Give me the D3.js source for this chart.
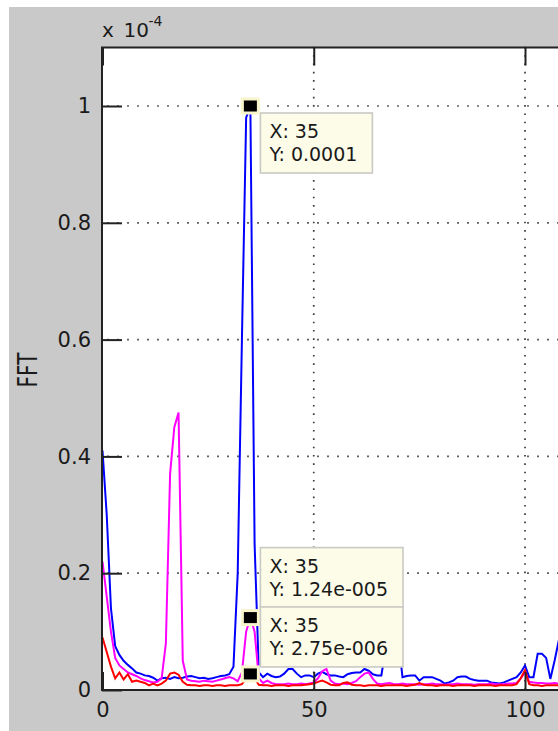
<!DOCTYPE html>
<html>
<head>
<meta charset="utf-8">
<script src="https://cdn.jsdelivr.net/npm/d3@7"></script>
<style>
  html, body { margin: 0; padding: 0; background: #ffffff; }
  svg { display: block; }
  text { font-family: "DejaVu Sans", Verdana, sans-serif; fill: #1a1a1a; }
</style>
</head>
<body>
<svg id="chart" width="558" height="731"></svg>
<script>
// FFT magnitudes per frequency bin (bin index = frequency), in units of 1e-4
const yExponent = -4;
const blueFFT = [
  0.41, 0.3, 0.14, 0.075, 0.06, 0.05, 0.043, 0.037, 0.03, 0.028,
  0.025, 0.024, 0.021, 0.016, 0.02, 0.021, 0.019, 0.022, 0.02, 0.021,
  0.023, 0.024, 0.022, 0.02, 0.021, 0.019, 0.02, 0.022, 0.024, 0.025,
  0.027, 0.04, 0.2, 0.6, 0.98, 1.0, 0.25, 0.03, 0.022, 0.028,
  0.024, 0.022, 0.023, 0.028, 0.036, 0.036, 0.028, 0.022, 0.025, 0.025,
  0.022, 0.028, 0.031, 0.027, 0.025, 0.025, 0.023, 0.022, 0.027, 0.029,
  0.03, 0.03, 0.036, 0.033, 0.027, 0.025, 0.025, 0.07, 0.12, 0.06,
  0.09, 0.022, 0.024, 0.025, 0.025, 0.016, 0.022, 0.022, 0.022, 0.019,
  0.016, 0.011, 0.013, 0.016, 0.022, 0.023, 0.023, 0.019, 0.017, 0.016,
  0.016, 0.016, 0.013, 0.012, 0.011, 0.013, 0.016, 0.019, 0.022, 0.03,
  0.042, 0.022, 0.022, 0.062, 0.062, 0.055, 0.019, 0.05, 0.085, 0.07,
  0.05
];
const magentaFFT = [
  0.22, 0.16, 0.1, 0.055, 0.042, 0.036, 0.03, 0.027, 0.024, 0.02,
  0.017, 0.015, 0.013, 0.014, 0.02, 0.08, 0.37, 0.45, 0.475, 0.05,
  0.018, 0.016, 0.015, 0.014, 0.016, 0.015, 0.014, 0.016, 0.018, 0.02,
  0.022, 0.02, 0.015, 0.03, 0.1, 0.124, 0.1, 0.02, 0.012, 0.016,
  0.012, 0.01, 0.01, 0.01, 0.011, 0.01, 0.01, 0.011, 0.01, 0.011,
  0.013, 0.02, 0.032, 0.036, 0.016, 0.011, 0.01, 0.011, 0.01, 0.012,
  0.015, 0.022, 0.028, 0.03, 0.019, 0.011, 0.01, 0.011, 0.012, 0.01,
  0.01, 0.011, 0.01, 0.01, 0.01, 0.009, 0.01, 0.01, 0.011, 0.01,
  0.01, 0.009, 0.01, 0.01, 0.011, 0.01, 0.01, 0.01, 0.009, 0.01,
  0.01, 0.01, 0.011, 0.01, 0.01, 0.01, 0.011, 0.011, 0.012, 0.02,
  0.03, 0.014, 0.013, 0.012, 0.012, 0.011, 0.011, 0.012, 0.011, 0.011,
  0.011
];
const redFFT = [
  0.09, 0.065, 0.04, 0.02, 0.03, 0.018, 0.027, 0.014, 0.016, 0.014,
  0.012, 0.008, 0.011, 0.008, 0.011, 0.016, 0.028, 0.03, 0.026, 0.014,
  0.009, 0.008, 0.008, 0.007, 0.008, 0.008, 0.007, 0.008, 0.008, 0.007,
  0.008, 0.008, 0.008, 0.01, 0.02, 0.0275, 0.02, 0.009, 0.008, 0.008,
  0.007, 0.008, 0.008, 0.008, 0.007, 0.008, 0.008, 0.008, 0.009, 0.01,
  0.011, 0.014, 0.016, 0.013, 0.009, 0.008, 0.008, 0.012, 0.013, 0.009,
  0.008, 0.008, 0.007, 0.008, 0.008, 0.008, 0.007, 0.008, 0.008, 0.008,
  0.008, 0.008, 0.007, 0.008, 0.009, 0.012, 0.009, 0.008, 0.008, 0.007,
  0.008, 0.008, 0.008, 0.007, 0.008, 0.008, 0.008, 0.008, 0.007, 0.008,
  0.008, 0.008, 0.008, 0.007, 0.008, 0.008, 0.008, 0.008, 0.01, 0.02,
  0.034, 0.01, 0.008, 0.008, 0.007, 0.008, 0.008, 0.008, 0.008, 0.008,
  0.008
];
const xTickValues = [0, 50, 100];
const yTickValues = [0, 0.2, 0.4, 0.6, 0.8, 1];
const yTickLabels = ["0", "0.2", "0.4", "0.6", "0.8", "1"];
const yAxisLabel = "FFT";
const tipBin = 35;

const seriesList = [
  { values: blueFFT, color: "#0000ff" },
  { values: magentaFFT, color: "#ff00ff" },
  { values: redFFT, color: "#ff0000" }
];

const svg = d3.select("#chart");
const W = 558, H = 731;

// scales: the axes extend beyond the right edge of the window
const xEnd = 120;
const x = d3.scaleLinear().domain([0, xEnd]).range([102.5, 102.5 + xEnd * 4.225]);
const y = d3.scaleLinear().domain([0, 1.1]).range([690, 47.6]);
const pL = 102, pT = 47.6, pB = 690, pR = x(xEnd);

// figure background
svg.append("rect").attr("width", W).attr("height", H).attr("fill", "#ffffff");
svg.append("rect").attr("x", 9).attr("y", 7).attr("width", W - 9).attr("height", H - 7)
  .attr("fill", "#c9c9c9");
// axes background
svg.append("rect").attr("x", pL).attr("y", pT).attr("width", pR - pL).attr("height", pB - pT)
  .attr("fill", "#ffffff");

// dotted grid
const grid = svg.append("g").attr("stroke", "#3a3a3a").attr("stroke-width", 1.7).attr("fill", "none");
grid.selectAll("line.h").data(yTickValues.filter(v => v > 0)).join("line")
  .attr("class", "h")
  .attr("x1", pL + 5.2).attr("x2", pR)
  .attr("y1", d => y(d)).attr("y2", d => y(d))
  .attr("stroke-dasharray", "1.6 8.4");
grid.selectAll("line.v").data(xTickValues.filter(v => v > 0)).join("line")
  .attr("class", "v")
  .attr("x1", d => x(d)).attr("x2", d => x(d))
  .attr("y1", pT - 0.8).attr("y2", pB)
  .attr("stroke-dasharray", "1.6 6.73");

// data lines
svg.append("clipPath").attr("id", "plotClip")
  .append("rect").attr("x", pL).attr("y", pT).attr("width", pR - pL).attr("height", pB - pT);
const line = d3.line().x((d, i) => x(i)).y(d => y(d));
svg.append("g").attr("clip-path", "url(#plotClip)")
  .selectAll("path").data(seriesList).join("path")
  .attr("d", s => line(s.values))
  .attr("fill", "none")
  .attr("stroke", s => s.color)
  .attr("stroke-width", 2);

// axes
const axisColor = "#222222";
const yAxis = svg.append("g").attr("transform", `translate(${pL},0)`)
  .call(d3.axisLeft(y).tickValues(yTickValues)
    .tickFormat((d, i) => yTickLabels[i])
    .tickSizeInner(-20).tickSizeOuter(0).tickPadding(11));
const xAxis = svg.append("g").attr("transform", `translate(0,${pB})`)
  .call(d3.axisBottom(x).tickValues(xTickValues)
    .tickFormat(d3.format("d"))
    .tickSizeInner(-18).tickSizeOuter(0).tickPadding(12));
const xAxisTop = svg.append("g").attr("transform", `translate(0,${pT})`)
  .call(d3.axisTop(x).tickValues(xTickValues).tickFormat("")
    .tickSizeInner(-18).tickSizeOuter(0));
[yAxis, xAxis, xAxisTop].forEach(g => {
  g.select(".domain").remove();
  g.selectAll(".tick line").attr("stroke", axisColor).attr("stroke-width", 2);
  g.selectAll(".tick text").attr("font-size", 21).attr("fill", "#1a1a1a")
    .attr("font-family", "DejaVu Sans, Verdana, sans-serif");
});
svg.append("path")
  .attr("d", `M${pR},${pT}H${pL}V${pB}H${pR}`)
  .attr("fill", "none").attr("stroke", axisColor).attr("stroke-width", 2);

// exponent label
svg.append("text").attr("x", 102).attr("y", 37).attr("font-size", 20).text("x");
svg.append("text").attr("x", 123.5).attr("y", 37).attr("font-size", 20).text("10");
svg.append("text").attr("x", 148.5).attr("y", 25.5).attr("font-size", 14).text("-" + Math.abs(yExponent));

// y axis title
svg.append("text")
  .attr("transform", "translate(36.5,370) scale(1.3,1) rotate(-90)")
  .attr("text-anchor", "middle").attr("font-size", 20).text(yAxisLabel);

// data tips
function fmtValue(v) {
  const e = Math.floor(Math.log10(Math.abs(v)) + 1e-12);
  if (e < -4 || e >= 4) {
    const m = parseFloat(v.toExponential(3)) / Math.pow(10, e);
    const mStr = parseFloat(m.toPrecision(4)).toString();
    return mStr + "e" + (e < 0 ? "-" : "+") + String(Math.abs(e)).padStart(3, "0");
  }
  return parseFloat(v.toPrecision(4)).toString();
}

const tips = [
  { series: seriesList[0], place: "below" },
  { series: seriesList[1], place: "above", gap: 10 },
  { series: seriesList[2], place: "above", gap: 7 }
];
const tipLayer = svg.append("g");
tips.forEach(t => {
  const v = t.series.values[tipBin];
  const mx = x(tipBin), my = y(v);
  const lines = ["X: " + tipBin, "Y: " + fmtValue(v * Math.pow(10, yExponent))];
  const g = tipLayer.append("g");
  const box = g.append("rect").attr("fill", "#fcfce9").attr("stroke", "#c9c9c4").attr("stroke-width", 1.6);
  const bx = mx + 10;
  const bh = 60;
  const by = t.place === "below" ? my + 7 : my - t.gap - bh;
  const texts = g.selectAll("text").data(lines).join("text")
    .attr("x", bx + 9).attr("y", (d, i) => by + 25 + i * 23)
    .attr("font-size", 19).text(d => d);
  let tw = 0;
  texts.each(function () { tw = Math.max(tw, this.getComputedTextLength()); });
  box.attr("x", bx).attr("y", by).attr("width", tw + 24).attr("height", bh);
  // marker
  tipLayer.append("rect")
    .attr("x", mx - 8).attr("y", my - 7).attr("width", 16).attr("height", 14)
    .attr("fill", "#000000").attr("stroke", "#f8f4cc").attr("stroke-width", 3);
});
</script>
</body>
</html>
